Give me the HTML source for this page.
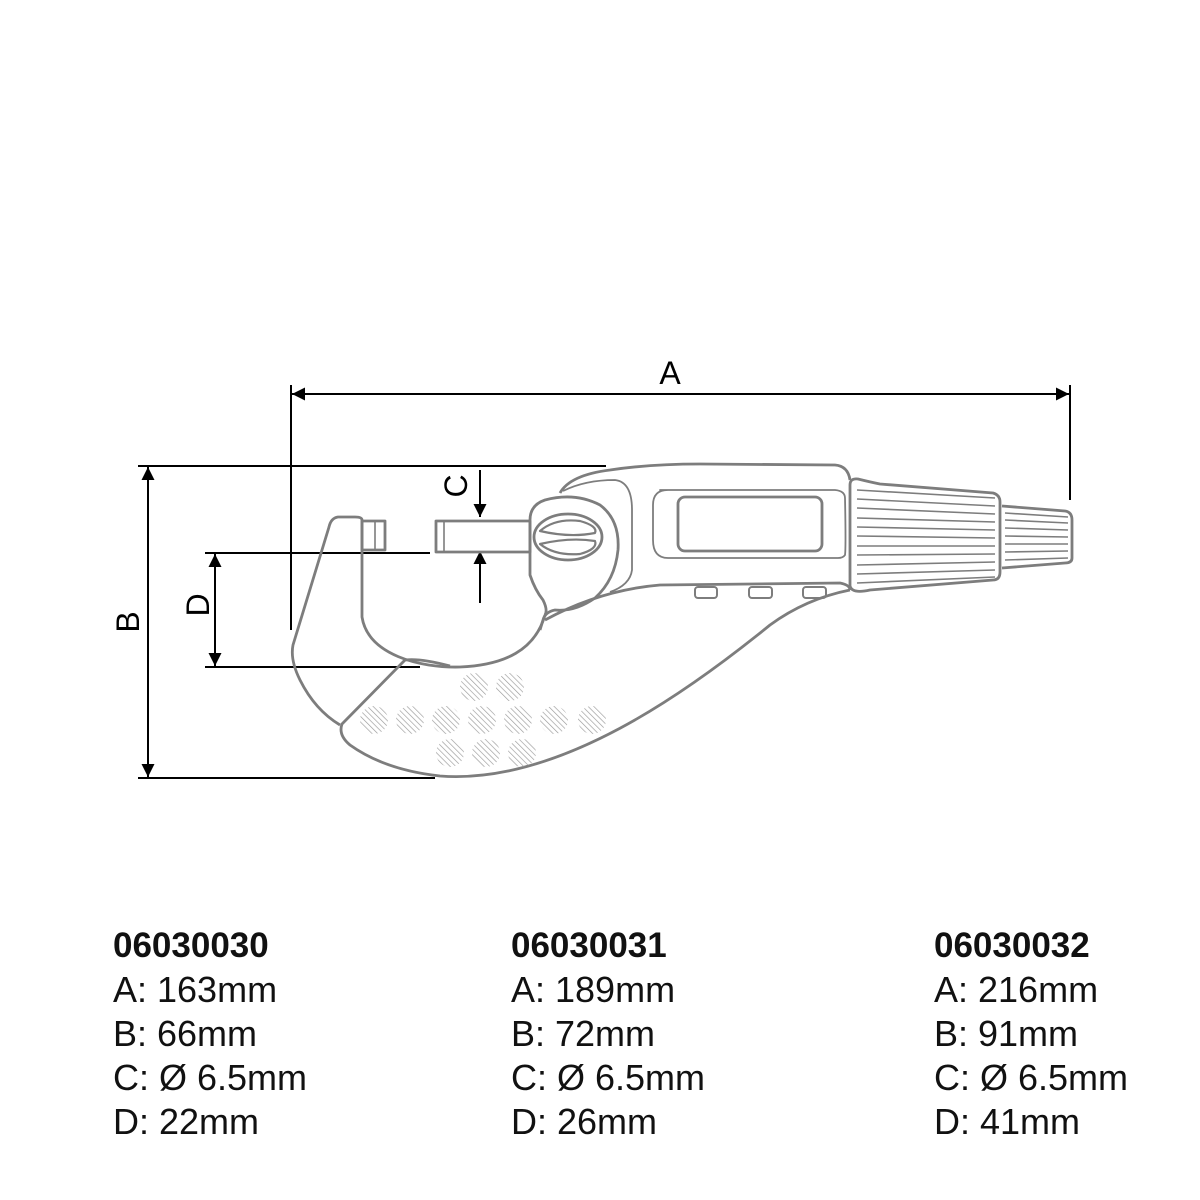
<!DOCTYPE html>
<html><head><meta charset="utf-8"><style>
html,body{margin:0;padding:0;background:#fff;}
body{width:1200px;height:1200px;position:relative;overflow:hidden;font-family:"Liberation Sans",Arial,sans-serif;}
.col{position:absolute;top:923px;font-size:36px;line-height:44px;color:#111;}
.col b{font-size:35px;}
</style></head><body>
<svg width="1200" height="900" viewBox="0 0 1200 900" style="position:absolute;left:0;top:0">
<defs>
<marker id="ar" viewBox="0 0 10 10" refX="10" refY="5" markerWidth="28" markerHeight="13" markerUnits="userSpaceOnUse" orient="auto"><path d="M0,0 L10,5 L0,10 z" fill="#000"/></marker>
<pattern id="hatch" width="4" height="4" patternUnits="userSpaceOnUse" patternTransform="rotate(-45)"><line x1="0" y1="0" x2="0" y2="4" stroke="#999" stroke-width="1.3"/></pattern>
</defs>
<g fill="none" stroke="#000" stroke-width="2">
<line x1="291" y1="385" x2="291" y2="630"/>
<line x1="1070" y1="385" x2="1070" y2="500"/>
<line x1="680" y1="394" x2="292" y2="394" marker-end="url(#ar)"/>
<line x1="680" y1="394" x2="1069" y2="394" marker-end="url(#ar)"/>
<line x1="138" y1="466" x2="606" y2="466"/>
<line x1="138" y1="778" x2="435" y2="778"/>
<line x1="148" y1="620" x2="148" y2="467" marker-end="url(#ar)"/>
<line x1="148" y1="620" x2="148" y2="777" marker-end="url(#ar)"/>
<line x1="205" y1="553" x2="430" y2="553"/>
<line x1="205" y1="667" x2="420" y2="667"/>
<line x1="215" y1="610" x2="215" y2="554" marker-end="url(#ar)"/>
<line x1="215" y1="610" x2="215" y2="666" marker-end="url(#ar)"/>
<line x1="480" y1="470" x2="480" y2="517" marker-end="url(#ar)"/>
<line x1="480" y1="603" x2="480" y2="551" marker-end="url(#ar)"/>
</g>
<g font-family="Liberation Sans, Arial, sans-serif" font-size="32" fill="#000">
<text x="670" y="384" text-anchor="middle">A</text>
<text x="0" y="0" text-anchor="middle" transform="translate(139,622) rotate(-90)">B</text>
<text x="0" y="0" text-anchor="middle" transform="translate(209,605) rotate(-90)">D</text>
<text x="0" y="0" text-anchor="middle" transform="translate(467,486) rotate(-90)">C</text>
</g>
<g fill="none" stroke="#7d7d7d" stroke-width="2.8" stroke-linejoin="round">
<path d="M362,520 L362,617 C368,655 420,668 460,667 C505,665 535,650 545,615"/>
<path d="M362,520 Q362,517 355,517 L338,517 Q331,518 329,527 L293,645 Q290,660 300,680 Q315,710 340,725"/>
<path d="M405,660 L342,724 Q338,735 350,745 Q385,770 440,776 C560,785 690,690 770,625 C800,603 830,594 850,590"/>
<path d="M405,660 Q420,658 450,666"/>
<rect x="362" y="521" width="23" height="29"/>
<line x1="375" y1="521" x2="375" y2="550" stroke-width="1.6"/>
<rect x="436" y="521" width="94" height="31"/>
<line x1="444" y1="521" x2="444" y2="552" stroke-width="1.6"/>
<path d="M530,520 Q530,505 545,500 Q575,492 600,505 Q620,520 618,550 Q615,580 595,598 Q575,612 555,610 Q545,612 543,620 L540,630 M530,520 L530,575 Q535,590 543,600 Q548,610 545,615"/>
<ellipse cx="568" cy="537" rx="34" ry="23"/>
<path d="M540,531 Q555,518 580,521 Q598,526 595,533 Q570,538 540,531 Z" stroke-width="2.2"/>
<path d="M540,544 Q555,556 580,554 Q598,549 595,541 Q570,537 540,544 Z" stroke-width="2.2"/>
<path d="M560,493 Q570,475 610,470 Q650,464 700,464 L835,465 Q848,466 850,480"/>
<path d="M563,491 Q585,480 615,480 Q632,482 632,510 L632,570 Q630,585 610,592" stroke-width="1.8"/>
<path d="M545,620 Q600,590 660,585 L840,583 Q850,585 850,590"/>
<path d="M660,490 L835,490 Q845,491 845,498 Q846,548 845,555 Q843,558 838,558 L668,558 Q653,558 653,540 L653,505 Q653,490 668,490 Z" stroke-width="1.8"/>
<rect x="678" y="497" width="144" height="54" rx="7"/>
<rect x="695" y="587" width="22" height="11" rx="3" stroke-width="2"/>
<rect x="749" y="587" width="23" height="11" rx="3" stroke-width="2"/>
<rect x="803" y="587" width="23" height="11" rx="3" stroke-width="2"/>
<path d="M850,485 Q850,478 858,479 Q870,482 880,484 L993,493 Q1000,495 1000,502 L1000,572 Q1000,580 993,580 L870,590 Q852,594 850,586 Z"/>
<path d="M1002,506 L1065,511 Q1072,512 1072,520 L1072,558 Q1072,563 1065,563 L1002,568"/>
</g>
<g stroke="#7d7d7d" stroke-width="1.6">
<line x1="857" y1="490" x2="995" y2="498"/><line x1="857" y1="499" x2="995" y2="506"/>
<line x1="857" y1="508" x2="995" y2="514"/><line x1="857" y1="518" x2="995" y2="522"/>
<line x1="857" y1="527" x2="995" y2="530"/><line x1="857" y1="536" x2="995" y2="538"/>
<line x1="857" y1="546" x2="995" y2="546"/><line x1="857" y1="555" x2="995" y2="554"/>
<line x1="857" y1="565" x2="995" y2="562"/><line x1="857" y1="574" x2="995" y2="570"/>
<line x1="857" y1="583" x2="995" y2="577"/>
<line x1="1005" y1="513" x2="1068" y2="517"/><line x1="1005" y1="520" x2="1068" y2="523"/>
<line x1="1005" y1="528" x2="1068" y2="530"/><line x1="1005" y1="536" x2="1068" y2="537"/>
<line x1="1005" y1="544" x2="1068" y2="544"/><line x1="1005" y1="552" x2="1068" y2="551"/>
<line x1="1005" y1="560" x2="1068" y2="558"/>
</g>
<g fill="url(#hatch)">
<circle cx="474" cy="687" r="14"/><circle cx="510" cy="687" r="14"/>
<circle cx="374" cy="720" r="14"/><circle cx="410" cy="720" r="14"/><circle cx="446" cy="720" r="14"/>
<circle cx="482" cy="720" r="14"/><circle cx="518" cy="720" r="14"/><circle cx="554" cy="720" r="14"/><circle cx="592" cy="720" r="14"/>
<circle cx="450" cy="753" r="14"/><circle cx="486" cy="753" r="14"/><circle cx="522" cy="753" r="14"/>
</g>
</svg>
<div class="col" style="left:113px"><b>06030030</b><br>A: 163mm<br>B: 66mm<br>C: Ø 6.5mm<br>D: 22mm</div>
<div class="col" style="left:511px"><b>06030031</b><br>A: 189mm<br>B: 72mm<br>C: Ø 6.5mm<br>D: 26mm</div>
<div class="col" style="left:934px"><b>06030032</b><br>A: 216mm<br>B: 91mm<br>C: Ø 6.5mm<br>D: 41mm</div>
</body></html>
